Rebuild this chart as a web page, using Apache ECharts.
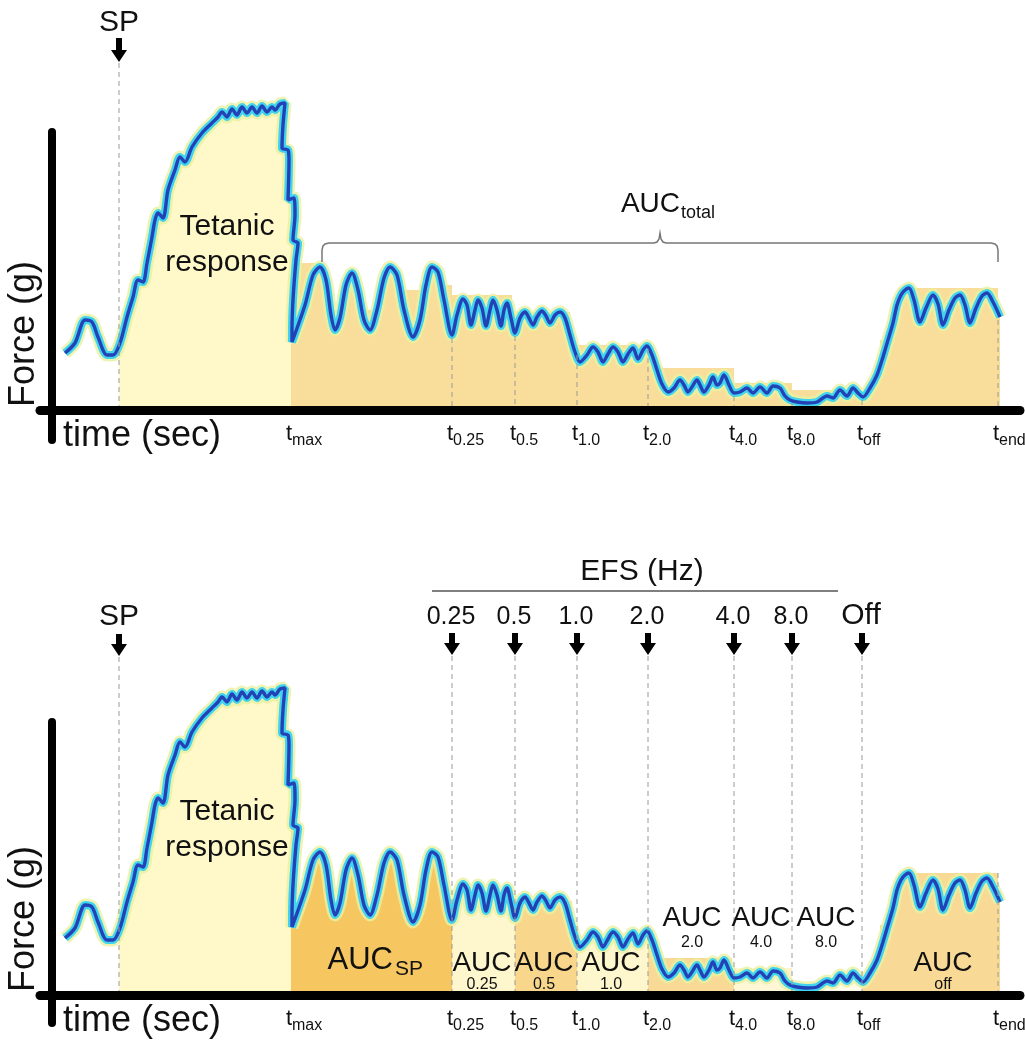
<!DOCTYPE html>
<html><head><meta charset="utf-8">
<script src="https://cdn.jsdelivr.net/npm/echarts@6/dist/echarts.min.js"></script>
<style>html,body{margin:0;padding:0;background:#fff}#c{width:1025px;height:1040px}</style>
</head><body><div id="c"></div>
<script>
// ---- data (time in arbitrary sec units, force in arbitrary g units) ----
const traceTime = [13,23,33,40,46,55,61,68,75,81,86,91,95,100,103,106,111,116,123,128,133,140,150,160,166,170,175,180,185,190,195,200,205,210,215,220,223,228,233,
  231,230,236,237,236,242,243,241,246,244,241,240,240,
  253,261,268,274,279,283,288,294,300,306,312,318,325,332,338,345,352,361,368,374,380,386,392,400,
  405,411,415,419,423,426,430,434,438,441,445,449,452,455,459,463,
  468,473,477,481,485,490,494,498,503,508,513,518,523,528,
  535,541,546,551,556,561,566,571,576,581,586,591,595,600,605,610,616,
  622,628,632,636,640,645,648,652,657,661,665,668,672,677,682,
  688,695,701,708,715,721,728,733,738,
  745,755,765,775,781,788,795,801,806,811,
  818,825,831,836,841,845,849,853,857,862,868,874,881,886,891,897,903,908,913,918,924,930,935,941,948];
const traceForce = [57,67,90,88,73,55,55,67,93,113,130,128,147,173,190,197,192,220,240,253,248,263,277,287,293,298,293,301,295,303,297,303,297,304,298,303,300,306,307,
  285,262,260,250,210,212,195,170,167,150,110,80,68,
  105,135,143,130,95,80,92,125,137,120,90,80,100,132,143,135,100,73,90,125,143,138,110,75,
  95,111,105,85,100,110,102,84,100,110,100,84,100,107,92,77,
  92,98,92,85,93,99,94,87,95,98,92,75,58,48,
  55,63,58,48,56,63,58,48,56,62,51,60,64,55,40,26,18,
  22,30,25,18,23,30,25,18,25,33,25,27,35,25,17,
  18,22,17,23,17,24,22,14,10,
  8,7,8,14,12,20,14,22,17,13,
  22,35,53,70,87,105,115,120,122,110,88,102,115,106,85,100,112,115,105,87,102,114,117,108,93];

const eventSubs  = ['max','0.25','0.5','1.0','2.0','4.0','8.0','off','end'];
const eventTimes = [239,400,463,525,596,682,740,810,946];
const spTime = 67;
const efsLabels = ['0.25','0.5','1.0','2.0','4.0','8.0','Off'];
const efsTimes  = [400,463,525,596,682,740,810];
const aucSubs   = ['0.25','0.5','1.0','2.0','4.0','8.0','off'];
const aucTimes  = [430,492,559,640,709,774,891];
const aucRow    = [0,0,0,1,1,1,0];
const aucSpTime = 341;
const tetanicTime = 175;
const braceRange = [270,946];
const efsBarRange = [380,786];
// blocky fill envelopes [start, end, level]
const topBlocks = [[240,273,147],[273,338,100],[338,368,120],[368,400,125],[400,460,115],[463,518,98],[525,596,65],[596,682,42],[682,740,27],[740,810,20],[828,846,70],[846,946,122]];
const bottomBlocks = [[463,520,94],[596,680,37],[682,740,27],[828,846,70],[846,946,122]];

// ---- styles ----
const FONT = '"Liberation Sans", Arial, Helvetica, sans-serif';
const topFill = '#F9DE9B', light = '#FFF8C8';
const bottomBlockColors = ['#F8D68C','#F8DA96','#FEF5CF','#F8DA96','#F8DA96'];
const bottomPieces = [
  {lt:67, color:'rgba(255,255,255,0)'},
  {gte:67, lt:239, color:light},
  {gte:239, lt:400, color:'#F6C660'},
  {gte:400, lt:463, color:'#FEF6CC'},
  {gte:463, lt:525, color:'#F8D68C'},
  {gte:525, lt:596, color:'#FEF6CC'},
  {gte:596, lt:682, color:'#F8DA96'},
  {gte:682, lt:740, color:'#FEF7D6'},
  {gte:740, lt:810, color:'#FFFBEA'},
  {gte:810, color:'#F8DA96'}
];
const topPieces = [
  {lt:67, color:'rgba(255,255,255,0)'},
  {gte:67, lt:239, color:light},
  {gte:239, color:topFill}
];

const chart = echarts.init(document.getElementById('c'));
const pts = traceTime.map((t,i)=>[t, traceForce[i]]);

function panelSeries(gi, blocks, colors){
  const base = {type:'line', xAxisIndex:gi, yAxisIndex:gi, data:pts, smooth:0.3, symbol:'none', showSymbol:false, clip:false, silent:true, animation:false};
  return [
    Object.assign({}, base, {z:1, lineStyle:{width:0, opacity:0}, areaStyle:{opacity:1},
      markArea:{silent:true, data: blocks.map((b,i)=>[{xAxis:b[0], yAxis:0, itemStyle:{color: colors ? colors[i] : topFill}},{xAxis:b[1], yAxis:b[2]}])}}),
    Object.assign({}, base, {z:3, lineStyle:{color:'rgba(234,240,160,0.8)', width:13}}),
    Object.assign({}, base, {z:4, lineStyle:{color:'#42D3EE', width:8}}),
    Object.assign({}, base, {z:5, lineStyle:{color:'#2242B6', width:3.4}})
  ];
}
function xA(gi){ return {type:'value', gridIndex:gi, min:-12, max:968, z:10,
  axisLine:{show:true, onZero:true, lineStyle:{color:'#000', width:9}}, axisTick:{show:false}, axisLabel:{show:false}, splitLine:{show:false}}; }
function yA(gi, mn, mx){ return {type:'value', gridIndex:gi, min:mn, max:mx, z:10,
  axisLine:{show:true, onZero:true, lineStyle:{color:'#000', width:8}}, axisTick:{show:false}, axisLabel:{show:false}, splitLine:{show:false}}; }

chart.setOption({
  animation:false,
  backgroundColor:'#fff',
  grid:[{left:40,right:5,top:132,bottom:600},{left:40,right:5,top:722,bottom:17}],
  xAxis:[xA(0), xA(1)],
  yAxis:[yA(0,-30,278), yA(1,-28,273)],
  visualMap:[
    {type:'piecewise', show:false, seriesIndex:0, dimension:0, pieces:topPieces},
    {type:'piecewise', show:false, seriesIndex:4, dimension:0, pieces:bottomPieces}
  ],
  series:[...panelSeries(0, topBlocks, null), ...panelSeries(1, bottomBlocks, bottomBlockColors)]
});

// ---- annotations ----
const P = (gi, x, y) => chart.convertToPixel({gridIndex:gi}, [x, y]);
function forceAt(t){ let b=0, bd=1e9; traceTime.forEach((x,i)=>{const d=Math.abs(x-t); if(d<bd){bd=d;b=i;}}); return traceForce[b]; }
const G = [];
function text(x, y, s, size, align, extra){
  G.push(Object.assign({type:'text', x:x, y:y, z:60, silent:true,
    style:Object.assign({text:s, fontSize:size, fontFamily:FONT, fill:'#111', align:align||'center', verticalAlign:'middle'}, extra||{})}));
}
function dash(x, y1, y2){
  G.push({type:'line', z:6, silent:true, shape:{x1:x, y1:y1, x2:x, y2:y2}, style:{stroke:'#9a9a9a', lineWidth:1, lineDash:[5,4]}});
}
function arrow(x, top, mid, bottom){
  G.push({type:'polygon', z:60, silent:true, shape:{points:[[x-3,top],[x+3,top],[x+3,mid],[x+8,mid],[x,bottom],[x-8,mid],[x-3,mid]]}, style:{fill:'#000'}});
}

[0,1].forEach(gi=>{
  const ax = P(gi, 0, 0)[1];
  const spX = P(gi, spTime, 0)[0];
  // SP
  if (gi===0){ text(spX, 23, 'SP', 30); arrow(spX, 38, 50, 62); dash(spX, 63, ax); }
  else { text(spX, 617, 'SP', 30); arrow(spX, 634, 644, 656); dash(spX, 657, ax); }
  // tick labels
  eventTimes.forEach((t,i)=>{
    const x = P(gi, t, 0)[0];
    text(x+1, ax+24, 't', 22, 'right');
    text(x+1, ax+31, eventSubs[i], 16, 'left');
  });
  // axis titles
  text(24, ax-76, 'Force (g)', 36, 'center', {});
  G[G.length-1].rotation = Math.PI/2;
  text(63, ax+26, 'time (sec)', 36, 'left');
  // tetanic
  text(P(gi, tetanicTime, 0)[0], ax-165, 'Tetanic\nresponse', 30, 'center', {lineHeight:36});
});

// top panel: dashed drop lines from trace
eventTimes.slice(1).forEach(t=>{
  const p = P(0, t, forceAt(t));
  dash(p[0], p[1]+3, P(0, t, 0)[1]);
});
// brace + AUC_total
(function(){
  const L = P(0, braceRange[0], 0)[0], R = P(0, braceRange[1], 0)[0], M = (L+R)/2, y = 243;
  G.push({type:'polyline', z:60, silent:true, style:{stroke:'#777', lineWidth:1.5, fill:null},
    shape:{points:[[L,262],[L,250],[L+1,246],[L+3,244],[L+7,y],[M-6,y],[M-3,y-1],[M-1,y-4],[M,y-10],[M+1,y-4],[M+3,y-1],[M+6,y],[R-7,y],[R-3,y+1],[R-1,y+3],[R,y+7],[R,262]]}});
  text(M+20, 204, 'AUC', 28, 'right');
  text(M+21, 213, 'total', 18, 'left');
})();

// bottom panel: EFS header, arrows, labels
(function(){
  const ax = P(1, 0, 0)[1];
  const x0 = P(1, efsBarRange[0], 0)[0], x1 = P(1, efsBarRange[1], 0)[0];
  G.push({type:'line', z:60, silent:true, shape:{x1:x0, y1:591, x2:x1, y2:591}, style:{stroke:'#555', lineWidth:1.5}});
  text((x0+x1)/2+7, 572, 'EFS (Hz)', 30);
  efsTimes.forEach((t,i)=>{
    const x = P(1, t, 0)[0];
    const isOff = efsLabels[i]==='Off';
    text(x-1, isOff?616:617, efsLabels[i], isOff?30:25);
    arrow(x, 633, 643, 655);
    dash(x, 656, ax);
  });
  const te = eventTimes[eventTimes.length-1];
  const pe = P(1, te, 122);
  dash(pe[0], pe[1], ax);
  // AUC labels
  const sx = P(1, aucSpTime, 0)[0];
  text(sx, ax-35, 'AUC', 31, 'right');
  text(sx+2, ax-26, 'SP', 21, 'left');
  aucTimes.forEach((t,i)=>{
    const x = P(1, t, 0)[0];
    const up = aucRow[i]===1;
    text(x, up?ax-77:ax-32, 'AUC', 28);
    text(x, up?ax-52:ax-10, aucSubs[i], 16);
  });
})();

chart.setOption({graphic:{elements:G}});
</script></body></html>
